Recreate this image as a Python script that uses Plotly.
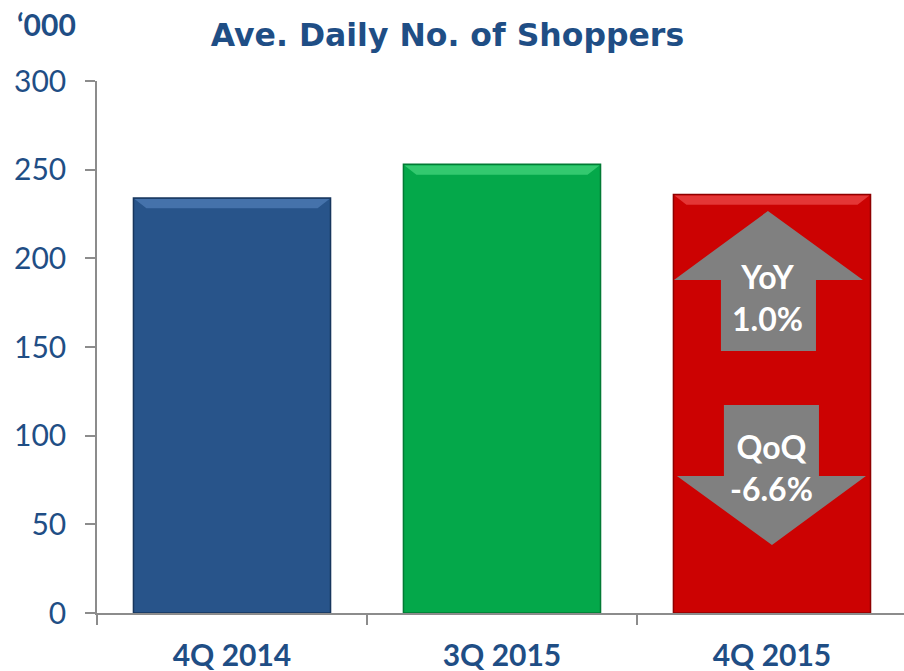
import plotly.graph_objects as go

categories = ["4Q 2014", "3Q 2015", "4Q 2015"]
shoppers = [234, 253, 236]
bar_colors = ["#28548A", "#04A84A", "#CC0202"]
bevel_colors = ["#4A78B0", "#3CCF76", "#E84040"]
edge_colors = ["#17365D", "#027A34", "#8E0000"]
y_ticks = [0, 50, 100, 150, 200, 250, 300]
yoy_label = ["YoY", "1.0%"]
qoq_label = ["QoQ", "-6.6%"]

BLUE = "#1F4E85"
BAR_W = 0.73
x_idx = list(range(len(categories)))

fig = go.Figure()
fig.add_trace(go.Bar(
    x=x_idx, y=shoppers, width=BAR_W,
    marker=dict(color=bar_colors, line=dict(color=edge_colors, width=1.5)),
    hoverinfo="skip", showlegend=False,
))

def path(pts):
    return "M " + " L ".join(f"{x},{y}" for x, y in pts) + " Z"

# bevel highlight at each bar top
dx, dy = 0.044, 5.2
for xi, v, col in zip(x_idx, shoppers, bevel_colors):
    l, r = xi - BAR_W / 2 + 0.004, xi + BAR_W / 2 - 0.004
    top = v - 0.6
    fig.add_shape(type="path", path=path([(l, top), (r, top), (r - dx, top - dy), (l + dx, top - dy)]),
                  xref="x", yref="y", fillcolor=col, opacity=0.85, line=dict(width=0))

# arrows (relative to last bar)
c = x_idx[-1]
up = [(c - 0.015, 226.7), (c + 0.337, 187.8), (c + 0.163, 187.8), (c + 0.163, 147.7),
      (c - 0.189, 147.7), (c - 0.189, 187.8), (c - 0.363, 187.8)]
down = [(c - 0.178, 117.3), (c + 0.174, 117.3), (c + 0.174, 77.3), (c + 0.348, 77.3),
        (c, 38.3), (c - 0.352, 77.3), (c - 0.178, 77.3)]
for pts in (up, down):
    fig.add_shape(type="path", path=path(pts), xref="x", yref="y",
                  fillcolor="#808080", line=dict(width=0), layer="above")

fig.add_annotation(x=c - 0.015, y=178, text="<br>".join(f"<b>{t}</b>" for t in yoy_label),
                   showarrow=False, font=dict(family="Lato", size=32, color="white"),
                   xref="x", yref="y")
fig.add_annotation(x=c, y=82, text="<br>".join(f"<b>{t}</b>" for t in qoq_label),
                   showarrow=False, font=dict(family="Lato", size=32, color="white"),
                   xref="x", yref="y")

fig.add_annotation(x=-0.102, y=1.108, xref="paper", yref="paper", xanchor="left",
                   yanchor="middle", text="<b>‘000</b>", showarrow=False,
                   font=dict(family="Lato", size=30, color=BLUE))

fig.update_layout(
    width=904, height=671,
    margin=dict(l=97, r=0, t=81, b=58, autoexpand=False),
    paper_bgcolor="white", plot_bgcolor="white",
    title=dict(text="<b>Ave. Daily No. of Shoppers</b>", x=0.495, xanchor="center",
               y=1 - 35 / 671, yanchor="middle",
               font=dict(family="DejaVu Sans", size=31.5, color=BLUE)),
    xaxis=dict(range=[-0.5, 2.489], tickvals=x_idx, ticktext=[f"<b>{t}</b>" for t in categories],
               ticks="", showgrid=False, zeroline=False, automargin=False,
               showline=True, linecolor="#8C8C8C", linewidth=1.5,
               tickfont=dict(family="Lato", size=30, color=BLUE),
               minor=dict(tickvals=[-0.5, 0.5, 1.5, 2.5], ticks="outside", ticklen=10,
                          tickcolor="#8C8C8C", tickwidth=1.5, showgrid=False),
               ticklabelstandoff=15, fixedrange=True),
    yaxis=dict(range=[0, 300], tickvals=y_ticks, ticks="outside", ticklen=10,
               tickcolor="#8C8C8C", tickwidth=1.5, showgrid=False, zeroline=False,
               showline=True, linecolor="#8C8C8C", linewidth=1.5, automargin=False,
               tickfont=dict(family="Lato", size=30, color=BLUE),
               ticklabelstandoff=13, fixedrange=True),
)

fig.write_html("out.html", config={"displayModeBar": False},
               post_script="document.body.style.margin='0';document.body.style.overflow='hidden';")
